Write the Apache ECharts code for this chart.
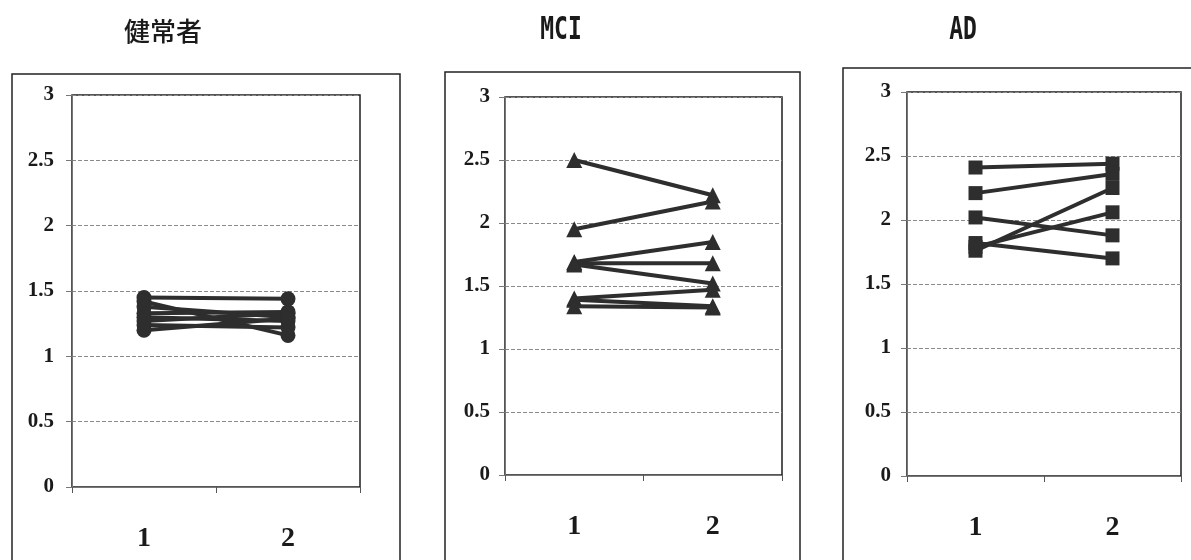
<!DOCTYPE html>
<html>
<head>
<meta charset="utf-8">
<script src="https://cdn.jsdelivr.net/npm/echarts@6/dist/echarts.min.js"></script>
<style>
html,body{margin:0;padding:0;background:#fff;}
#chart{width:1191px;height:560px;}
</style>
</head>
<body>
<div id="chart"></div>
<script>
// ---- data ----
const categories = ['1', '2'];
const yTickLabels = ['0', '0.5', '1', '1.5', '2', '2.5', '3'];
const panelTitles = ['健常者', 'MCI', 'AD'];
// each row = one subject: [value at 1, value at 2]
const normalValues = [
  [1.45, 1.44],
  [1.42, 1.16],
  [1.38, 1.30],
  [1.33, 1.34],
  [1.30, 1.27],
  [1.27, 1.33],
  [1.24, 1.22],
  [1.20, 1.29]
];
const mciValues = [
  [2.50, 2.22],
  [1.95, 2.17],
  [1.69, 1.85],
  [1.68, 1.68],
  [1.67, 1.52],
  [1.40, 1.47],
  [1.39, 1.34],
  [1.34, 1.33]
];
const adValues = [
  [2.41, 2.44],
  [2.21, 2.36],
  [2.02, 1.88],
  [1.76, 2.25],
  [1.79, 2.06],
  [1.82, 1.70]
];

// ---- layout / style ----
const grids = [
  {left: 72, top: 95, width: 288, height: 392},
  {left: 505, top: 97, width: 277, height: 378},
  {left: 907, top: 92, width: 274, height: 384}
];
const labelMargins = [18, 15, 16];
const frames = [
  {x: 12, y: 74, w: 388, h: 600},
  {x: 445, y: 72, w: 355, h: 600},
  {x: 843, y: 68, w: 400, h: 600}
];
const markers = [
  {symbol: 'circle', size: 15},
  {symbol: 'triangle', size: 16},
  {symbol: 'rect', size: 14}
];
const ink = '#2e2e2e';
const yMin = Number(yTickLabels[0]);
const yMax = Number(yTickLabels[yTickLabels.length - 1]);
const yStep = Number(yTickLabels[1]) - yMin;

const chart = echarts.init(document.getElementById('chart'), null, {renderer: 'canvas'});

const xAxes = [], yAxes = [], series = [];
[normalValues, mciValues, adValues].forEach((group, gi) => {
  xAxes.push({
    type: 'category', gridIndex: gi, data: categories, boundaryGap: true,
    axisLine: {show: true, lineStyle: {color: '#777', width: 1}},
    axisTick: {show: true, length: 6, inside: false, lineStyle: {color: '#555'}},
    axisLabel: {
      margin: 38, fontFamily: 'Liberation Serif', fontWeight: 'bold',
      fontSize: 28, color: '#1a1a1a'
    },
    splitLine: {show: false}
  });
  yAxes.push({
    type: 'value', gridIndex: gi, min: yMin, max: yMax, interval: yStep,
    axisLine: {show: true, lineStyle: {color: '#777', width: 1}},
    axisTick: {show: true, length: 6, lineStyle: {color: '#777'}},
    axisLabel: {
      margin: labelMargins[gi], fontFamily: 'Liberation Serif', fontWeight: 'bold',
      fontSize: 21, color: '#1a1a1a',
      formatter: (v) => yTickLabels[Math.round((v - yMin) / yStep)]
    },
    splitLine: {show: true, lineStyle: {color: '#8a8a8a', width: 1, type: [4, 2]}}
  });
  group.forEach((subject) => {
    series.push({
      type: 'line', xAxisIndex: gi, yAxisIndex: gi,
      data: subject,
      symbol: markers[gi].symbol, symbolSize: markers[gi].size,
      showSymbol: true,
      lineStyle: {color: ink, width: 4},
      itemStyle: {color: ink, borderWidth: 0},
      emphasis: {disabled: true},
      animation: false,
      z: 3
    });
  });
});

const graphics = [];
frames.forEach((f) => {
  graphics.push({
    type: 'rect', silent: true, z: -1,
    shape: {x: f.x, y: f.y, width: f.w, height: f.h},
    style: {fill: 'none', stroke: '#222', lineWidth: 1.5}
  });
});
graphics.push({
  type: 'text', x: 163, y: 31,
  style: {text: panelTitles[0], font: '500 26px "Noto Sans CJK JP"', fill: '#1a1a1a',
          textAlign: 'center', textVerticalAlign: 'middle'}
});
graphics.push({
  type: 'text', x: 561, y: 31, scaleY: 1.35,
  style: {text: panelTitles[1], font: 'bold 23px "DejaVu Sans Mono"', fill: '#1a1a1a',
          textAlign: 'center', textVerticalAlign: 'middle'}
});
graphics.push({
  type: 'text', x: 963, y: 31, scaleY: 1.35,
  style: {text: panelTitles[2], font: 'bold 23px "DejaVu Sans Mono"', fill: '#1a1a1a',
          textAlign: 'center', textVerticalAlign: 'middle'}
});

chart.setOption({
  backgroundColor: '#ffffff',
  animation: false,
  grid: grids.map((g) => Object.assign({show: true, borderColor: '#1e1e1e', borderWidth: 1.5,
                                        backgroundColor: 'transparent', containLabel: false}, g)),
  xAxis: xAxes,
  yAxis: yAxes,
  series: series,
  graphic: graphics
});
</script>
</body>
</html>
